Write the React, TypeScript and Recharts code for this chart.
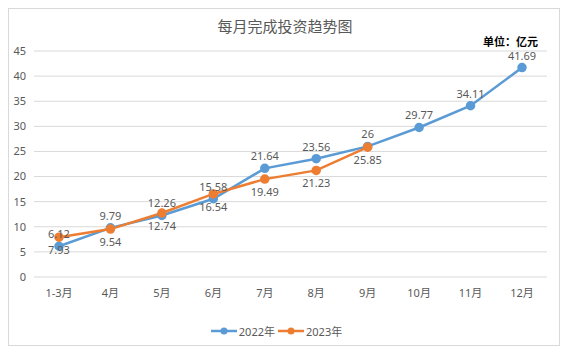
import React from 'react';
import { LineChart, Line, XAxis, YAxis, CartesianGrid, Legend, LabelList } from 'recharts';

const months = ['1-3月', '4月', '5月', '6月', '7月', '8月', '9月', '10月', '11月', '12月'];
const values2022 = [6.12, 9.79, 12.26, 15.58, 21.64, 23.56, 26, 29.77, 34.11, 41.69];
const values2023: (number | null)[] = [7.93, 9.54, 12.74, 16.54, 19.49, 21.23, 25.85, null, null, null];
const yTicks = [0, 5, 10, 15, 20, 25, 30, 35, 40, 45];

const BLUE = '#5B9BD5';
const ORANGE = '#ED7D31';
const TEXT = '#595959';
const FONT = '"Noto Sans", "Noto Sans CJK SC", sans-serif';

const data = months.map((m, i) => ({ month: m, y2022: values2022[i], y2023: values2023[i] }));

const legendItems = [
  { label: '2022年', color: BLUE },
  { label: '2023年', color: ORANGE },
];

const renderLegend = () => (
  <div style={{ display: 'flex', justifyContent: 'center', alignItems: 'center', fontSize: 11, color: TEXT, fontFamily: FONT }}>
    {legendItems.map(item => (
      <span key={item.label} style={{ display: 'flex', alignItems: 'center', marginRight: 3 }}>
        <svg width={26} height={8} style={{ marginRight: 2 }}>
          <line x1={0} y1={4} x2={26} y2={4} stroke={item.color} strokeWidth={2.5} />
          <circle cx={13} cy={4} r={3.5} fill={item.color} />
        </svg>
        {item.label}
      </span>
    ))}
  </div>
);

export default function App() {
  return (
    <div style={{ position: 'relative', width: 552, height: 338, boxSizing: 'border-box', border: '1px solid #D9D9D9', background: '#fff', fontFamily: FONT }}>
      <div style={{ position: 'absolute', top: 6, left: 0, width: 552, textAlign: 'center', fontSize: 15, color: TEXT, fontFamily: '"Noto Sans CJK SC", sans-serif' }}>
        每月完成投资趋势图
      </div>
      <div style={{ position: 'absolute', top: 24, right: 21, fontSize: 11, fontWeight: 'bold', color: '#000', fontFamily: '"Noto Sans CJK SC", sans-serif' }}>
        单位：亿元
      </div>
      <LineChart width={550} height={336} data={data} margin={{ top: 42, right: 12, bottom: 0, left: 0 }}>
        <CartesianGrid vertical={false} stroke="#D9D9D9" strokeWidth={1} />
        <XAxis
          dataKey="month"
          axisLine={false}
          tickLine={false}
          tick={{ fill: TEXT, fontSize: 11 }}
          tickMargin={6}
          height={52}
          padding={{ left: 25, right: 25 }}
        />
        <YAxis
          width={25}
          domain={[0, 45]}
          ticks={yTicks}
          axisLine={false}
          tickLine={false}
          tick={{ fill: TEXT, fontSize: 11 }}
        />
        <Legend verticalAlign="bottom" content={renderLegend} wrapperStyle={{ bottom: 6 }} />
        <Line type="linear" dataKey="y2022" stroke={BLUE} strokeWidth={2.5} dot={{ r: 3.5, fill: BLUE, stroke: BLUE }} isAnimationActive={false}>
          <LabelList dataKey="y2022" position="top" offset={8} fill={TEXT} fontSize={11} />
        </Line>
        <Line type="linear" dataKey="y2023" stroke={ORANGE} strokeWidth={2.5} dot={{ r: 3.5, fill: ORANGE, stroke: ORANGE }} isAnimationActive={false}>
          <LabelList dataKey="y2023" position="bottom" offset={9} fill={TEXT} fontSize={11} />
        </Line>
      </LineChart>
    </div>
  );
}
